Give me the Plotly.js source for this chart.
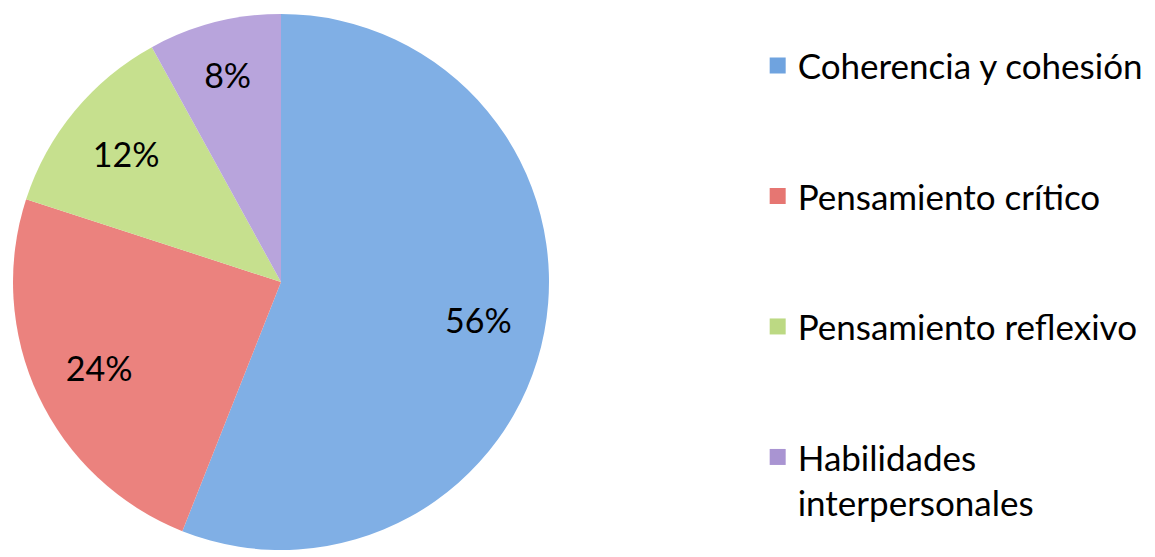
<!DOCTYPE html>
<html>
<head>
<meta charset="utf-8">
<script src="https://cdn.plot.ly/plotly-3.0.1.min.js"></script>
<style>html,body{margin:0;padding:0;background:#fff;}#chart{width:1155px;height:557px;}</style>
</head>
<body>
<div id="chart"></div>
<script>
const categories = ["Coherencia y cohesión", "Pensamiento crítico", "Pensamiento reflexivo", "Habilidades<br>interpersonales"];
const values = [56, 24, 12, 8];
const colors = ["#80afe5", "#eb827e", "#c6e08e", "#b8a4dc"];
const legendColors = ["#6fa3df", "#e67672", "#bcd983", "#a994d2"];

const FONT = "Lato, 'Open Sans', sans-serif";
const pieDomain = {x: [13/1155, 549/1155], y: [6/557, 544/557]};

const traces = [
  {
    // coloured slices
    type: "pie",
    labels: categories,
    values: values,
    sort: false,
    direction: "clockwise",
    rotation: 0,
    marker: {colors: colors, line: {width: 0}},
    textinfo: "none",
    domain: pieDomain,
    showlegend: false,
    hoverinfo: "label+percent"
  },
  {
    // same data, transparent ring that carries the percentage labels further out
    type: "pie",
    labels: categories,
    values: values,
    sort: false,
    direction: "clockwise",
    rotation: 0,
    hole: 0.5,
    marker: {colors: ["rgba(0,0,0,0)", "rgba(0,0,0,0)", "rgba(0,0,0,0)", "rgba(0,0,0,0)"], line: {width: 0}},
    texttemplate: "%{percent:.0%}",
    textposition: "inside",
    insidetextorientation: "horizontal",
    insidetextfont: {family: FONT, size: 34, color: "#000000"},
    domain: pieDomain,
    showlegend: false,
    hoverinfo: "skip"
  }
];

categories.forEach(function (c, i) {
  traces.push({
    type: "scatter",
    mode: "markers",
    x: [null], y: [null],
    name: c,
    legendgroup: "g" + i,
    marker: {symbol: "square", size: 20, color: legendColors[i]},
    showlegend: true,
    hoverinfo: "skip"
  });
});

const layout = {
  width: 1155, height: 557,
  margin: {l: 0, r: 0, t: 0, b: 0},
  paper_bgcolor: "#ffffff",
  plot_bgcolor: "#ffffff",
  font: {family: FONT, color: "#000000"},
  xaxis: {visible: false},
  yaxis: {visible: false},
  showlegend: true,
  legend: {
    x: 0.656, xanchor: "left",
    y: 0.935, yanchor: "top",
    font: {family: FONT, size: 35, color: "#000000"},
    tracegroupgap: 82,
    valign: "top",
    bgcolor: "rgba(0,0,0,0)"
  }
};

Plotly.newPlot("chart", traces, layout, {displayModeBar: false, staticPlot: true});
</script>
</body>
</html>
